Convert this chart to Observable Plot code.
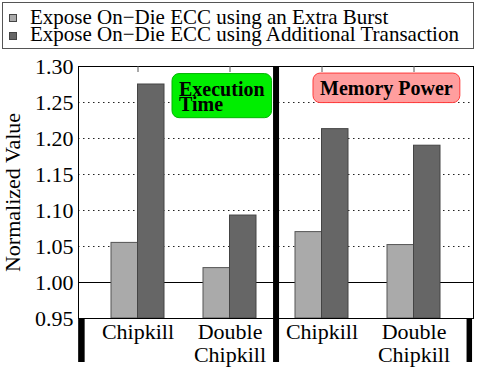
<!DOCTYPE html>
<html>
<head>
<meta charset="utf-8">
<script src="https://cdn.jsdelivr.net/npm/d3@7"></script>
<script src="https://cdn.jsdelivr.net/npm/@observablehq/plot@0.6"></script>
<style>
  html, body { margin: 0; padding: 0; background: #fff; }
  #wrap { width: 485px; height: 369px; position: relative; overflow: hidden; font-family: "Liberation Serif", "Times New Roman", serif; }
  #legend { position: relative; width: 485px; height: 50px; }
  #legend .box { position: absolute; left: 2px; top: 2px; width: 470px; height: 45px; border: 1px solid #555; }
  #legend .sw { position: absolute; left: 9px; width: 6px; height: 6px; border: 1px solid #444; }
  #legend .lab { position: absolute; left: 30px; font-size: 21px; line-height: 21px; white-space: nowrap; color: #000; }
  #chart svg { display: block; }
</style>
</head>
<body>
<div id="wrap">
  <div id="legend"></div>
  <div id="chart"></div>
</div>
<script>
// ---- data ----
const metrics = ["Execution Time", "Memory Power"];
const configs = ["Chipkill", "Double\nChipkill"];
const seriesNames = [
  "Expose On\u2212Die ECC using an Extra Burst",
  "Expose On\u2212Die ECC using Additional Transaction"
];
// order: ET-Chipkill, ET-Double, MP-Chipkill, MP-Double
const extraBurst = [1.055, 1.020, 1.070, 1.052];
const additionalTransaction = [1.275, 1.093, 1.213, 1.190];
const yTicks = [0.95, 1.00, 1.05, 1.10, 1.15, 1.20, 1.25, 1.30];
const annotationText = ["Execution\nTime", "Memory Power"];

// ---- styles ----
const seriesFill = ["#aaaaaa", "#666666"];
const seriesStroke = ["#555555", "#444444"];
const annFill = ["#00ee00", "#ff9e9e"];
const annStroke = ["#00b400", "#ff3a3a"];
const FONT = '"Liberation Serif", "Times New Roman", serif';

// ---- build rows ----
const keys = [];
metrics.forEach(m => configs.forEach(c => keys.push(m + "|" + c)));
const rows = keys.map((k, i) => ({ key: k, config: k.split("|")[1], extra: extraBurst[i], addl: additionalTransaction[i] }));

// ---- legend ----
const legend = document.getElementById("legend");
legend.innerHTML = `<div class="box"></div>` + seriesNames.map((s, i) =>
  `<div class="sw" style="top:${14 + i * 17.5}px;background:${seriesFill[i]}"></div>` +
  `<div class="lab" style="top:${7 + i * 17}px">${s}</div>`).join("");

// ---- chart ----
const W = 485, H = 319;
const halfBand = 26.5;
const step = 92.1;
const annOpts = { frameAnchor: "top-left", textAnchor: "start", lineAnchor: "top",
  fontSize: 20, fontWeight: "bold", lineHeight: 0.78, fill: "#000", fontFamily: FONT, ariaDescription: "annotation" };
const chart = Plot.plot({
  width: W, height: H,
  marginTop: 16, marginBottom: 51, marginLeft: 78, marginRight: 12,
  style: { fontFamily: FONT, fontSize: "22px", background: "#fff", color: "#000" },
  x: { type: "band", domain: keys, paddingInner: 0.4245, paddingOuter: 0.356, align: 0.5 },
  y: { domain: [0.95, 1.30], ticks: yTicks, tickFormat: d3.format(".2f") },
  marks: [
    Plot.ruleY(yTicks.filter(t => t > 1.0 && t < 1.3), { stroke: "#222", strokeDasharray: "1.5,3.5", strokeWidth: 1 }),
    Plot.ruleY([1.0], { stroke: "#000", strokeWidth: 1 }),
    Plot.barY(rows, { x: "key", y1: 0.95, y2: "extra", fill: seriesFill[0], stroke: seriesStroke[0], strokeWidth: 1, insetRight: halfBand, insetLeft: 0 }),
    Plot.barY(rows, { x: "key", y1: 0.95, y2: "addl", fill: seriesFill[1], stroke: seriesStroke[1], strokeWidth: 1, insetLeft: halfBand, insetRight: 0 }),
    Plot.frame({ stroke: "#000", strokeWidth: 1 }),
    Plot.ruleX(keys, { x: d => d, y1: 1.30, y2: 1.30, insetBottom: -6, stroke: "#555" }),
    Plot.axisY({ ticks: yTicks, tickFormat: d3.format(".2f"), tickSize: 0, tickPadding: 5, fontSize: 22,
      label: "Normalized Value", labelArrow: "none", labelAnchor: "center", labelOffset: 74 }),
    Plot.axisX({ tickSize: 0, tickPadding: 4, fontSize: 22, lineHeight: 1.05, label: null, tickFormat: k => k.split("|")[1] }),
    // separator between the two metrics and group end markers
    Plot.ruleX([keys[1]], { x: d => d, y1: 1.30, y2: 0.95, insetBottom: -44, dx: step / 2, stroke: "#000", strokeWidth: 6 }),
    Plot.ruleX([keys[0]], { x: d => d, y1: 0.95, y2: 0.95, insetBottom: -44, dx: -56.6, stroke: "#000", strokeWidth: 6.5 }),
    Plot.ruleX([keys[3]], { x: d => d, y1: 0.95, y2: 0.95, insetBottom: -44, dx: 55.3, stroke: "#000", strokeWidth: 5.5 }),
    Plot.text([annotationText[0]], { ...annOpts, text: d => d, dx: 100.5, dy: 18 }),
    Plot.text([annotationText[1]], { ...annOpts, text: d => d, dx: 241.5, dy: 17.5 })
  ]
});
document.getElementById("chart").appendChild(chart);

// rounded boxes behind the annotation texts, sized from each text's bounding box
d3.select(chart).selectAll('g[aria-description="annotation"]').each(function (_, i) {
  const txt = d3.select(this).select("text").node();
  const bb = txt.getBBox();
  const tr = txt.getAttribute("transform") || "";
  const padX = 7, padTop = 4, padBottom = 2.5;
  d3.select(this).insert("rect", "text")
    .attr("transform", tr)
    .attr("x", bb.x - padX).attr("y", bb.y - padTop)
    .attr("width", bb.width + 2 * padX).attr("height", bb.height + padTop + padBottom)
    .attr("rx", 7).attr("ry", 7)
    .attr("fill", annFill[i]).attr("stroke", annStroke[i]).attr("stroke-width", 1);
});
</script>
</body>
</html>
